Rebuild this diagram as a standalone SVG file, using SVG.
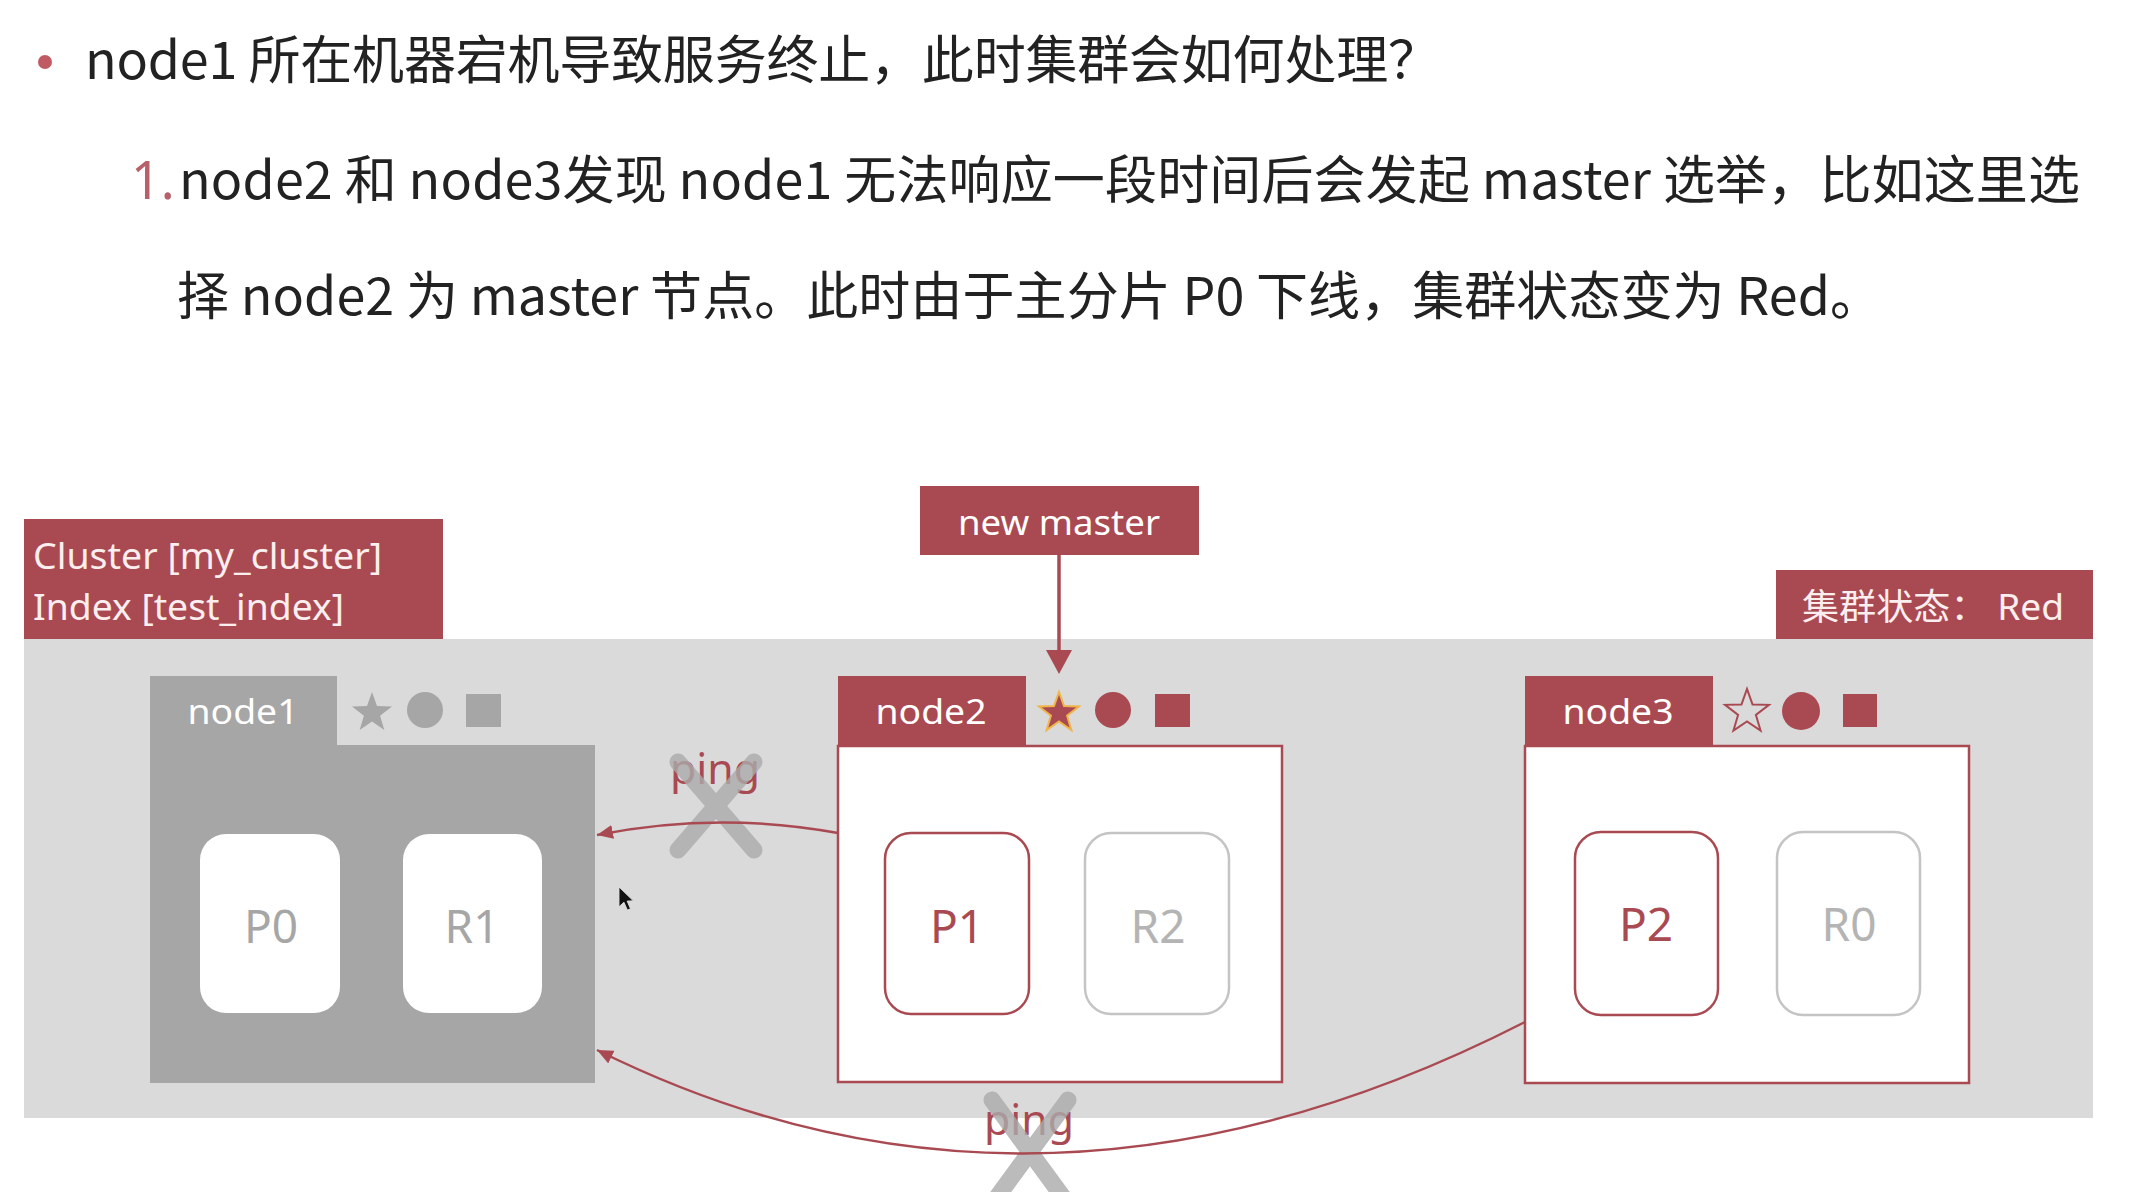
<svg xmlns="http://www.w3.org/2000/svg" width="2132" height="1192" viewBox="0 0 2132 1192">
<style>
.title{font-family:"Noto Sans CJK SC","Noto Sans",sans-serif;font-size:52px;fill:#222222}
.lbl{font-family:"Noto Sans","Noto Sans CJK SC",sans-serif;fill:#fbeeee}
.red{fill:#a94a52}
.gray{fill:#a6a6a6}
.shard{font-family:"Noto Sans",sans-serif;font-size:46px;text-anchor:middle}
.ntext{font-family:"Noto Sans",sans-serif;font-size:34px;fill:#ffffff;text-anchor:middle}
.ping{font-family:"Noto Sans",sans-serif;font-size:42px;fill:#a94a52;text-anchor:middle}
.conn{fill:none;stroke:#a94a52;stroke-width:2.5}
.xmark{stroke:#ababab;stroke-width:17;stroke-linecap:round;opacity:0.8}
</style>
<defs>
<path id="star" d="M0,-21 L5,-6.88 L19.97,-6.49 L8.08,2.63 L12.34,16.99 L0,8.5 L-12.34,16.99 L-8.08,2.63 L-19.97,-6.49 L-5,-6.88 Z"/>
<marker id="ah" markerUnits="userSpaceOnUse" markerWidth="18" markerHeight="14" refX="16" refY="7" orient="auto">
<path d="M0,0 L16,7 L0,14 Z" fill="#a94a52"/>
</marker>
</defs>
<rect width="2132" height="1192" fill="#ffffff"/>

<g id="heading">
<circle cx="45" cy="62" r="7" fill="#c05a63"/>
<text class="title" x="85" y="79" textLength="1355" lengthAdjust="spacing">node1 所在机器宕机导致服务终止，此时集群会如何处理？</text>
<text x="131" y="199" style="font-family:'Noto Sans',sans-serif;font-size:52px;fill:#b8616a">1.</text>
<text class="title" x="179" y="199" textLength="1901" lengthAdjust="spacing">node2 和 node3发现 node1 无法响应一段时间后会发起 master 选举，比如这里选</text>
<text class="title" x="177" y="315" textLength="1705" lengthAdjust="spacing">择 node2 为 master 节点。此时由于主分片 P0 下线，集群状态变为 Red。</text>
</g>

<g id="cluster">
<rect x="24" y="639" width="2069" height="479" fill="#dadada"/>
</g>

<g id="cluster-label">
<rect x="24" y="519" width="419" height="120" class="red"/>
<text class="lbl" x="33" y="569" font-size="37" textLength="349" lengthAdjust="spacingAndGlyphs">Cluster [my_cluster]</text>
<text class="lbl" x="33" y="620" font-size="37" textLength="311" lengthAdjust="spacingAndGlyphs">Index [test_index]</text>
</g>

<g id="cluster-status">
<rect x="1776" y="570" width="317" height="69" class="red"/>
<text class="lbl" x="1802" y="620" font-size="36" textLength="262" lengthAdjust="spacingAndGlyphs">集群状态： Red</text>
</g>

<g id="new-master">
<rect x="920" y="486" width="279" height="69" class="red"/>
<text class="ntext" x="1059" y="535" textLength="202" lengthAdjust="spacingAndGlyphs">new master</text>
</g>

<g id="node1">
<rect x="150" y="676" width="187" height="70" class="gray"/>
<rect x="150" y="745" width="445" height="338" class="gray"/>
<text class="ntext" x="243" y="724" textLength="111" lengthAdjust="spacingAndGlyphs">node1</text>
<use href="#star" transform="translate(372,713)" fill="#a6a6a6"/>
<circle cx="425" cy="710" r="18" fill="#a6a6a6"/>
<rect x="466" y="694" width="35" height="33" fill="#a6a6a6"/>
<rect x="200" y="834" width="140" height="179" rx="26" fill="#ffffff"/>
<rect x="403" y="834" width="139" height="179" rx="26" fill="#ffffff"/>
<text class="shard" x="271" y="943" fill="#a6a6a6">P0</text>
<text class="shard" x="472" y="943" fill="#a6a6a6">R1</text>
</g>

<g id="node2">
<rect x="838" y="676" width="188" height="70" class="red"/>
<rect x="838" y="746" width="444" height="336" fill="#ffffff" stroke="#a94a52" stroke-width="2.5"/>
<text class="ntext" x="931" y="724" textLength="111" lengthAdjust="spacingAndGlyphs">node2</text>
<use href="#star" transform="translate(1059,713)" fill="#a94a52" stroke="#efb44a" stroke-width="2"/>
<circle cx="1113" cy="710" r="18" fill="#a94a52"/>
<rect x="1155" y="694" width="35" height="33" fill="#a94a52"/>
<rect x="885" y="833" width="144" height="181" rx="26" fill="#ffffff" stroke="#a94a52" stroke-width="2.5"/>
<rect x="1085" y="833" width="144" height="181" rx="26" fill="#ffffff" stroke="#c4c4c4" stroke-width="2.5"/>
<text class="shard" x="957" y="943" fill="#a94a52">P1</text>
<text class="shard" x="1158" y="943" fill="#b4b4b4">R2</text>
</g>

<g id="node3">
<rect x="1525" y="676" width="188" height="70" class="red"/>
<rect x="1525" y="746" width="444" height="337" fill="#ffffff" stroke="#a94a52" stroke-width="2.5"/>
<text class="ntext" x="1618" y="724" textLength="111" lengthAdjust="spacingAndGlyphs">node3</text>
<use href="#star" transform="translate(1747,712) scale(1.1)" fill="none" stroke="#a94a52" stroke-width="1.8"/>
<circle cx="1801" cy="711" r="19" fill="#a94a52"/>
<rect x="1843" y="694" width="34" height="33" fill="#a94a52"/>
<rect x="1575" y="832" width="143" height="183" rx="26" fill="#ffffff" stroke="#a94a52" stroke-width="2.5"/>
<rect x="1777" y="832" width="143" height="183" rx="26" fill="#ffffff" stroke="#c4c4c4" stroke-width="2.5"/>
<text class="shard" x="1646" y="941" fill="#a94a52">P2</text>
<text class="shard" x="1849" y="941" fill="#b4b4b4">R0</text>
</g>

<g id="connectors">
<line x1="1059" y1="555" x2="1059" y2="652" stroke="#a94a52" stroke-width="3.5"/>
<polygon points="1046,650 1072,650 1059,674" fill="#a94a52"/>
<text class="ping" x="715" y="784" textLength="90" lengthAdjust="spacingAndGlyphs">ping</text>
<g class="xmark"><line x1="678" y1="762" x2="754" y2="850"/><line x1="754" y1="762" x2="678" y2="850"/></g>
<path class="conn" d="M838,833 Q717,811 597,835" marker-end="url(#ah)"/>
<text class="ping" x="1029" y="1135" textLength="90" lengthAdjust="spacingAndGlyphs">ping</text>
<g class="xmark"><line x1="992" y1="1100" x2="1068" y2="1204"/><line x1="1068" y1="1100" x2="992" y2="1204"/></g>
<path class="conn" d="M1525,1022 Q1040,1270 597,1050" marker-end="url(#ah)"/>
</g>

<g id="cursor">
<path d="M0,0 L0,18 L4.5,13.8 L7.6,21 L10.4,19.8 L7.4,12.8 L13,12.6 Z" transform="translate(619,887) scale(1.1)" fill="#111111" stroke="#dddddd" stroke-width="0.8"/>
</g>
</svg>
